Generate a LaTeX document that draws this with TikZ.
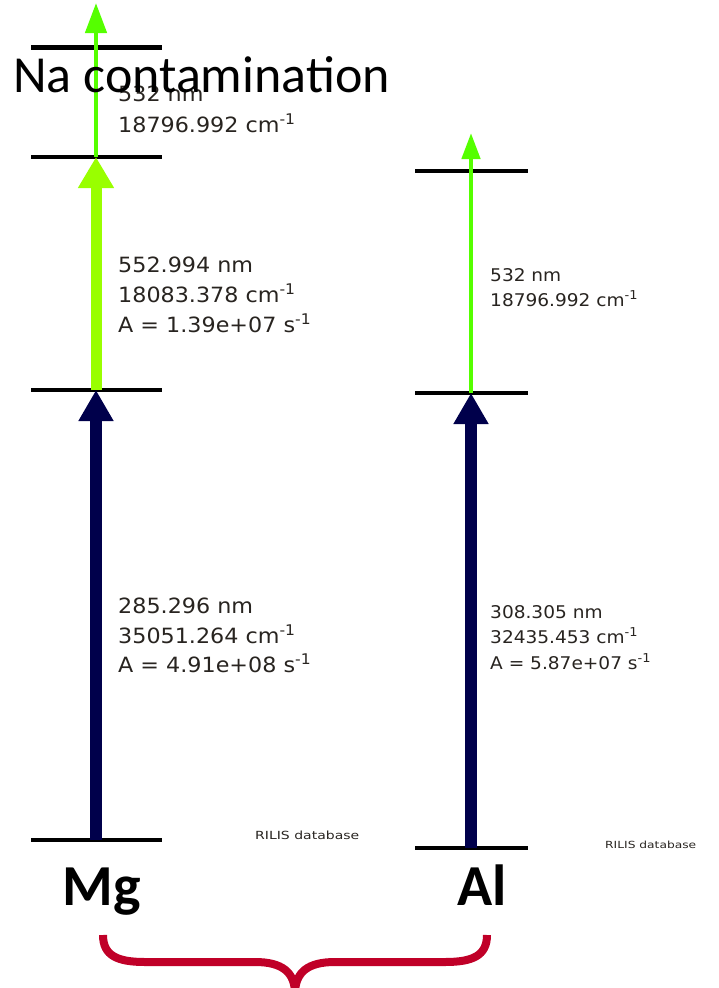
\documentclass[tikz,border=0pt]{standalone}
\usepackage{fontspec}
\setmainfont{DejaVu Sans}
\newfontfamily\lblfont[FakeStretch=1.06]{DejaVu Sans}
\newfontfamily\dbfont[FakeStretch=1.25]{DejaVu Sans}
\newfontfamily\calfont{Carlito}
\usetikzlibrary{arrows.meta}

\definecolor{uvblue}{RGB}{0,0,75}
\definecolor{yelgreen}{RGB}{153,255,0}
\definecolor{lasgreen}{RGB}{85,255,0}
\definecolor{bracered}{RGB}{192,0,40}
\definecolor{lbltext}{RGB}{40,36,32}

\begin{document}
\begin{tikzpicture}[x=1pt,y=-1pt,
  level/.style={line width=4.5pt,black},
  uvarrow/.style={uvblue,line width=12.5pt,-{Triangle[width=33pt,length=31pt]}},
  visarrow/.style={yelgreen,line width=11pt,-{Triangle[width=34pt,length=31pt]}},
  lasarrow/.style={lasgreen,line width=4.5pt,-{Triangle[width=21pt,length=30pt]}},
  lasarrowal/.style={lasarrow,-{Triangle[width=18pt,length=26pt]}},
  mglbl/.style={anchor=base west,inner sep=0pt,text=lbltext,font=\lblfont\fontsize{21}{25}\selectfont},
  allbl/.style={mglbl,font=\lblfont\fontsize{17.5}{21}\selectfont},
  dblbl/.style={anchor=base west,inner sep=0pt,text=lbltext,font=\dbfont\fontsize{11.2}{13}\selectfont},
  elem/.style={anchor=base,inner sep=0pt,font=\calfont\bfseries\fontsize{58}{60}\selectfont},
  brace/.style={bracered,line width=8pt}]

\useasboundingbox (0,0) rectangle (718,988);

% =====================
% Livelli energetici
% =====================
\def\MgX{96}
\def\MgGround{840}
\def\MgMid{390}
\def\MgUp{157}
\def\MgTop{47.5}
\def\AlX{471}
\def\AlGround{848}
\def\AlMid{393}
\def\AlTop{171}

\draw[level] (31,\MgGround) -- (162,\MgGround);
\draw[level] (31,\MgMid) -- (162,\MgMid);
\draw[level] (31,\MgUp) -- (162,\MgUp);
\draw[level] (31,\MgTop) -- (162,\MgTop);

\draw[level] (415,\AlGround) -- (528,\AlGround);
\draw[level] (415,\AlMid) -- (528,\AlMid);
\draw[level] (415,\AlTop) -- (528,\AlTop);

\coordinate (mg0) at (\MgX,\MgGround);
\coordinate (mg1) at (\MgX,\MgMid);
\coordinate (mg2) at (\MgX,\MgUp);
\coordinate (mgtip) at (\MgX,3);
\coordinate (al0) at (\AlX,\AlGround);
\coordinate (al1) at (\AlX,\AlMid);
\coordinate (altip) at (\AlX,133);

% =====================
% Transizioni Mg
% =====================
\draw[uvarrow] (mg0) -- (mg1);
\draw[visarrow] (mg1) -- (mg2);
\draw[lasarrow] (mg2) -- (mgtip);

\node[mglbl] (mgaw) at (118,101) {532 nm};
\node[mglbl] (mgaf) at (118,132) {18796.992 cm\textsuperscript{-1}};

\node[mglbl] (mgbw) at (118,272) {552.994 nm};
\node[mglbl] (mgbf) at (118,302) {18083.378 cm\textsuperscript{-1}};
\node[mglbl] (mgba) at (118,332) {A = 1.39e+07 s\textsuperscript{-1}};

\node[mglbl] (mgcw) at (118,613) {285.296 nm};
\node[mglbl] (mgcf) at (118,643) {35051.264 cm\textsuperscript{-1}};
\node[mglbl] (mgca) at (118,672) {A = 4.91e+08 s\textsuperscript{-1}};

\node[dblbl] (mgdb) at (255,839) {RILIS database};

% =====================
% Transizioni Al
% =====================
\draw[uvarrow] (al0) -- (al1);
\draw[lasarrowal] (al1) -- (altip);

\node[allbl] (alaw) at (490,281) {532 nm};
\node[allbl] (alcf0) at (490,306) {18796.992 cm\textsuperscript{-1}};

\node[allbl] (alcw) at (490,618) {308.305 nm};
\node[allbl] (alcf) at (490,643) {32435.453 cm\textsuperscript{-1}};
\node[allbl] (alca) at (490,669) {A = 5.87e+07 s\textsuperscript{-1}};

\node[dblbl,font=\dbfont\fontsize{9.8}{11}\selectfont] (aldb) at (605,848) {RILIS database};

% =====================
% Elementi e parentesi
% =====================
\node[elem] (mgname) at (102,905) {Mg};
\node[elem] (alname) at (482,905) {Al};

\coordinate (brl) at (103,935);
\coordinate (brm) at (295,994);
\coordinate (brr) at (487,935);
\draw[brace] (brl) .. controls (103,956) and (118,962) .. (145,962) -- (255,962)
  .. controls (282,962) and (295,972) .. (brm)
  .. controls (295,972) and (308,962) .. (335,962) -- (445,962)
  .. controls (472,962) and (487,956) .. (brr);

\node[anchor=base west,inner sep=0pt,font=\calfont\fontsize{52}{56}\selectfont] (nacont) at (13,92) {Na contamination};

\end{tikzpicture}
\end{document}
